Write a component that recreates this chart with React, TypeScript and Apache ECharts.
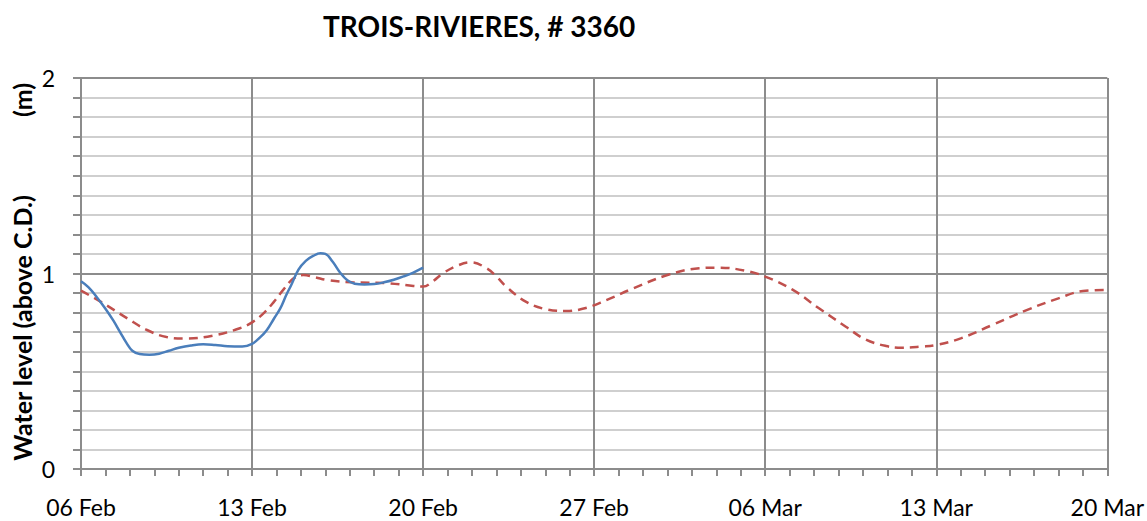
import React, { useEffect, useRef } from "react";
import * as echarts from "echarts";

const TITLE = "TROIS-RIVIERES, # 3360";
const Y_NAME = "Water level (above C.D.)";
const Y_UNIT = "(m)";
const X_TICK_LABELS = ["06 Feb", "13 Feb", "20 Feb", "27 Feb", "06 Mar", "13 Mar", "20 Mar"];
const Y_TICK_LABELS = ["0", "1", "2"];

// days since 06 Feb
const observedDays = [0, 0.3, 0.64, 1.0, 1.32, 1.6, 1.86, 2.1, 2.4, 2.8, 3.2, 3.6, 4.0, 4.5, 5.0, 5.5, 6.0, 6.6, 7.0, 7.3, 7.6, 7.9, 8.15, 8.4, 8.6, 8.9, 9.2, 9.5, 9.8, 10.0, 10.3, 10.6, 10.9, 11.2, 11.6, 12.0, 12.4, 12.8, 13.2, 13.6, 14.0];
const observedLevels = [0.96, 0.93, 0.88, 0.82, 0.76, 0.7, 0.645, 0.605, 0.588, 0.585, 0.59, 0.605, 0.62, 0.632, 0.638, 0.634, 0.628, 0.626, 0.64, 0.67, 0.71, 0.77, 0.82, 0.89, 0.94, 1.02, 1.065, 1.09, 1.103, 1.1, 1.06, 1.005, 0.965, 0.948, 0.944, 0.946, 0.955, 0.968, 0.985, 1.005, 1.03];

const predictedDays = [0, 0.8, 1.9, 2.7, 3.5, 4.3, 5.4, 6.5, 7.05, 7.5, 7.9, 8.3, 8.7, 9.1, 9.6, 10.05, 11.1, 12.6, 13.6, 14.0, 14.4, 14.8, 15.4, 15.95, 16.6, 17.0, 17.4, 18.2, 19.0, 19.85, 20.7, 21.5, 22.6, 24.0, 25.3, 26.1, 27.2, 28.0, 29.1, 30.2, 31.3, 32.1, 32.95, 33.6, 34.4, 35.0, 36.0, 37.3, 38.7, 40.0, 41.0, 42.0];
const predictedLevels = [0.912, 0.856, 0.77, 0.711, 0.675, 0.667, 0.682, 0.72, 0.754, 0.8, 0.856, 0.92, 0.975, 0.992, 0.98, 0.967, 0.955, 0.95, 0.936, 0.933, 0.96, 1.0, 1.04, 1.057, 1.027, 0.985, 0.933, 0.856, 0.818, 0.808, 0.825, 0.864, 0.924, 0.992, 1.027, 1.03, 1.014, 0.984, 0.919, 0.822, 0.728, 0.663, 0.629, 0.62, 0.626, 0.634, 0.668, 0.737, 0.813, 0.873, 0.91, 0.916];

const FONT = "Lato, 'Open Sans', sans-serif";

export default function App() {
  const ref = useRef<HTMLDivElement>(null);
  useEffect(() => {
    if (!ref.current) return;
    const chart = echarts.init(ref.current, null, { renderer: "svg" });
    const gridColor = "#8c8c8c";
    chart.setOption({
      animation: false,
      backgroundColor: "#ffffff",
      title: {
        text: TITLE,
        left: 318,
        top: 7,
        textStyle: { fontFamily: FONT, fontWeight: "bold", fontSize: 28, color: "#000" },
      },
      grid: { left: 81, right: 39, top: 78, bottom: 52, containLabel: false },
      xAxis: {
        type: "value",
        min: 0,
        max: 42,
        interval: 7,
        axisLine: { show: true, onZero: false, lineStyle: { color: gridColor, width: 2 } },
        axisTick: { show: true, length: 7, lineStyle: { color: gridColor, width: 2 } },
        minorTick: { show: true, splitNumber: 7, length: 7, lineStyle: { color: gridColor, width: 2 } },
        splitLine: { show: true, lineStyle: { color: gridColor, width: 2 } },
        axisLabel: {
          margin: 26,
          fontFamily: FONT,
          fontSize: 23,
          color: "#000",
          formatter: (v: number) => X_TICK_LABELS[Math.round(v / 7)] ?? "",
        },
      },
      yAxis: {
        type: "value",
        min: 0,
        max: 2,
        interval: 1,
        axisLine: { show: true, onZero: false, lineStyle: { color: gridColor, width: 2 } },
        axisTick: { show: true, length: 8, lineStyle: { color: gridColor, width: 2 } },
        minorTick: { show: true, splitNumber: 10, length: 8, lineStyle: { color: gridColor, width: 2 } },
        splitLine: { show: true, lineStyle: { color: gridColor, width: 2 } },
        minorSplitLine: { show: true, lineStyle: { color: "#cfcfcf", width: 2 } },
        axisLabel: {
          margin: 26,
          fontFamily: FONT,
          fontSize: 23,
          color: "#000",
          formatter: (v: number) => Y_TICK_LABELS[Math.round(v)] ?? "",
        },
      },
      graphic: [
        {
          type: "text",
          x: 22,
          y: 328,
          rotation: Math.PI / 2,
          style: {
            text: Y_NAME,
            fontFamily: FONT,
            fontWeight: "bold",
            fontSize: 25,
            fill: "#000",
            align: "center",
            verticalAlign: "middle",
          },
        },
        {
          type: "text",
          x: 22,
          y: 100,
          rotation: Math.PI / 2,
          style: {
            text: Y_UNIT,
            fontFamily: FONT,
            fontWeight: "bold",
            fontSize: 25,
            fill: "#000",
            align: "center",
            verticalAlign: "middle",
          },
        },
      ],
      series: [
        {
          name: "Predicted",
          type: "line",
          smooth: 0.4,
          showSymbol: false,
          data: predictedDays.map((d, i) => [d, predictedLevels[i]]),
          lineStyle: { color: "#c0504d", width: 2.5, type: [9, 6] },
          z: 2,
        },
        {
          name: "Observed",
          type: "line",
          smooth: 0.4,
          showSymbol: false,
          data: observedDays.map((d, i) => [d, observedLevels[i]]),
          lineStyle: { color: "#4a7ebb", width: 2.5 },
          z: 3,
        },
      ],
    });
    return () => chart.dispose();
  }, []);
  return (
    <div
      ref={ref}
      style={{ position: "fixed", left: 0, top: 0, width: 1147, height: 521, background: "#fff" }}
    />
  );
}
